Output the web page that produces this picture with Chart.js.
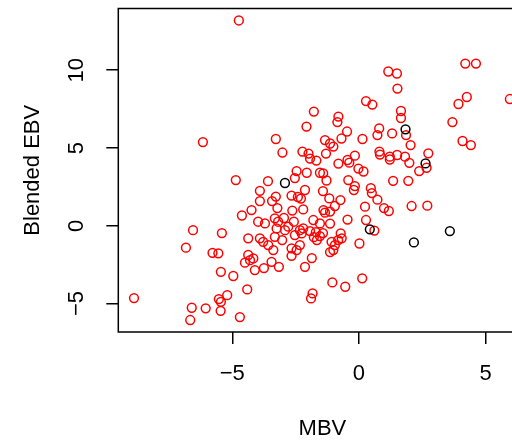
<!DOCTYPE html>
<html>
<head>
<meta charset="utf-8">
<script src="https://cdn.jsdelivr.net/npm/chart.js@4"></script>
<style>
  html, body { margin: 0; padding: 0; background: #fff; overflow: hidden; }
  #wrap { width: 540px; height: 445px; }
</style>
</head>
<body>
<div id="wrap"><canvas id="ebvChart" width="540" height="445"></canvas></div>
<script>
// values
const redMBV = [
  -4.74, -1.78, 0.28, 0.53, -0.81, -0.85, 4.20, 4.62, 1.16, 1.50,
  1.52, 3.93, 4.26, 5.96, 1.66, 1.66, 3.69, -2.07, 0.80, -6.16,
  -0.47, 0.14, 0.73, -3.28, -1.34, -1.14, -1.01, -0.69, -3.02, -2.23,
  -1.99, -1.93, -1.68, -1.30, -0.16, -0.45, -0.38, -0.81, -0.02, 0.18,
  0.81, 0.83, 1.31, 1.86, 2.04, 4.09, 4.42, 1.22, 1.22, 1.51,
  1.82, 1.99, 2.74, 2.67, 2.38, -2.46, -2.06, -1.54, -1.41, -4.86,
  -3.59, -1.28, -0.42, -2.53, -2.13, -1.42, -0.16, -0.20, 0.47, 0.51,
  1.35, 1.95, -3.91, -3.28, -3.43, -2.66, -2.41, -2.29, -3.91, -1.17,
  -0.73, 0.73, 0.99, 1.18, -0.95, -3.22, -2.63, -2.20, -1.40, -1.34,
  -1.14, 0.24, 2.08, 2.70, -4.24, -4.62, -2.96, -3.98, -3.71, -3.32,
  -3.19, -2.57, -1.80, -1.54, -1.14, -0.45, 0.28, -2.79, -2.92, -2.33,
  -2.20, -2.26, -3.25, 0.61, -6.55, -5.41, -4.37, -3.91, -3.78, -3.58,
  -3.03, -3.32, -3.38, -2.66, -2.46, -2.33, -1.93, -1.78, -1.66, -1.54,
  -1.42, -1.70, -1.08, -0.95, -0.82, -0.68, -1.01, -1.14, 0.02, -0.72,
  -6.83, -5.78, -5.55, -4.50, -4.37, -4.30, -4.17, -4.11, -3.75, -3.45,
  -3.16, -2.13, -1.86, -5.45, -4.96, -4.41, -5.20, -5.53, -5.45, -5.46,
  -8.88, -6.60, -6.05, -6.66, -4.70, -1.05, -0.54, 0.13, -1.83, -1.89,
  -2.66, -2.53
];
const redEBV = [
  13.20, 7.34, 8.02, 7.79, 7.02, 6.67, 10.43, 10.43, 9.92, 9.79,
  8.82, 7.83, 8.28, 8.15, 7.38, 6.93, 6.67, 6.38, 6.26, 5.38,
  6.06, 5.58, 5.83, 5.58, 5.51, 5.29, 5.09, 5.61, 4.71, 4.77,
  4.64, 4.32, 4.19, 4.64, 4.51, 4.23, 4.06, 4.00, 3.68, 3.49,
  4.77, 4.58, 5.94, 5.83, 5.19, 5.45, 5.19, 4.44, 4.26, 4.55,
  4.44, 4.05, 4.66, 3.73, 3.52, 3.52, 3.41, 3.41, 3.37, 2.94,
  2.87, 2.91, 2.94, 3.07, 2.30, 2.23, 2.55, 2.30, 2.42, 2.10,
  2.89, 2.89, 2.25, 1.88, 1.59, 1.94, 1.85, 1.75, 1.59, 1.76,
  1.65, 1.68, 1.14, 0.95, 1.27, 1.14, 0.98, 1.05, 1.01, 0.84,
  0.91, 1.23, 1.27, 1.29, 1.01, 0.66, 0.50, 0.26, 0.15, 0.48,
  0.26, 0.26, 0.37, 0.15, 0.14, 0.40, 0.37, -0.06, -0.28, -0.28,
  -0.17, -0.49, -0.17, -0.31, -0.28, -0.47, -0.81, -0.81, -1.03, -1.24,
  -0.92, -0.71, -1.56, -1.45, -1.56, -1.24, -0.34, -0.73, -0.92, -0.66,
  -0.47, -0.41, -1.03, -1.24, -0.92, -0.81, -1.56, -1.69, -1.14, -0.49,
  -1.41, -1.74, -1.77, -2.37, -1.88, -2.21, -2.10, -2.85, -2.72, -2.32,
  -2.64, -2.64, -2.08, -2.96, -3.23, -4.09, -4.46, -4.71, -4.89, -5.47,
  -4.65, -5.27, -5.31, -6.06, -5.87, -3.64, -3.92, -3.38, -4.35, -4.67,
  -1.93, -0.60
];
const blackMBV = [-2.92, 1.84, 2.63, 0.43, 2.17, 3.59];
const blackEBV = [2.75, 6.20, 4.01, -0.23, -1.07, -0.34];

const xTitle = 'MBV';
const yTitle = 'Blended EBV';
const xRange = [-9.5, 6.62];
const yRange = [-6.83, 13.97];
const tickStep = 5;

function toPoints(xs, ys) {
  return xs.map((x, i) => ({ x: x, y: ys[i] }));
}

const fontFamily = '"Liberation Sans", Arial, Helvetica, sans-serif';
const minusSign = v => String(v).replace('-', '\u2212');

// R-style box round the plot region
const boxPlugin = {
  id: 'plotBox',
  afterDraw(chart) {
    const a = chart.chartArea;
    const ctx = chart.ctx;
    ctx.save();
    ctx.strokeStyle = '#000';
    ctx.lineWidth = 1.5;
    ctx.strokeRect(a.left, a.top, a.right - a.left, a.bottom - a.top);
    ctx.restore();
  }
};

const ctx = document.getElementById('ebvChart').getContext('2d');
new Chart(ctx, {
  type: 'scatter',
  data: {
    datasets: [
      {
        label: 'red',
        data: toPoints(redMBV, redEBV),
        borderColor: '#ff0000',
        backgroundColor: 'rgba(0,0,0,0)',
        pointRadius: 4.4,
        borderWidth: 1.5,
        order: 2
      },
      {
        label: 'black',
        data: toPoints(blackMBV, blackEBV),
        borderColor: '#000000',
        backgroundColor: 'rgba(0,0,0,0)',
        pointRadius: 4.4,
        borderWidth: 1.5,
        order: 1
      }
    ]
  },
  options: {
    responsive: false,
    animation: false,
    events: [],
    layout: { padding: { top: 8.5, right: 13.4, left: 0, bottom: 0 } },
    plugins: { legend: { display: false }, tooltip: { enabled: false } },
    scales: {
      x: {
        type: 'linear',
        min: xRange[0],
        max: xRange[1],
        afterFit: scale => {
          scale.height = 113;
          scale.paddingLeft = 0;
          scale.paddingRight = 0;
        },
        border: { display: false },
        grid: { drawOnChartArea: false, drawTicks: true, tickLength: 12, color: '#000', lineWidth: 1.5 },
        ticks: {
          stepSize: tickStep,
          includeBounds: false,
          color: '#000',
          padding: 17,
          font: { family: fontFamily, size: 22 },
          callback: minusSign
        },
        title: {
          display: true,
          text: xTitle,
          color: '#000',
          font: { family: fontFamily, size: 22 },
          padding: { top: 0, bottom: 3 }
        }
      },
      y: {
        type: 'linear',
        min: yRange[0],
        max: yRange[1],
        afterFit: scale => {
          scale.width = 118.3;
          scale.paddingTop = 0;
          scale.paddingBottom = 0;
        },
        border: { display: false },
        grid: { drawOnChartArea: false, drawTicks: true, tickLength: 12, color: '#000', lineWidth: 1.5 },
        ticks: {
          stepSize: tickStep,
          includeBounds: false,
          color: '#000',
          padding: 17,
          minRotation: 90,
          maxRotation: 90,
          crossAlign: 'center',
          font: { family: fontFamily, size: 22 },
          callback: minusSign
        },
        title: {
          display: true,
          text: yTitle,
          color: '#000',
          font: { family: fontFamily, size: 22 },
          padding: { top: 20, bottom: 0 }
        }
      }
    }
  },
  plugins: [boxPlugin]
});
</script>
</body>
</html>
